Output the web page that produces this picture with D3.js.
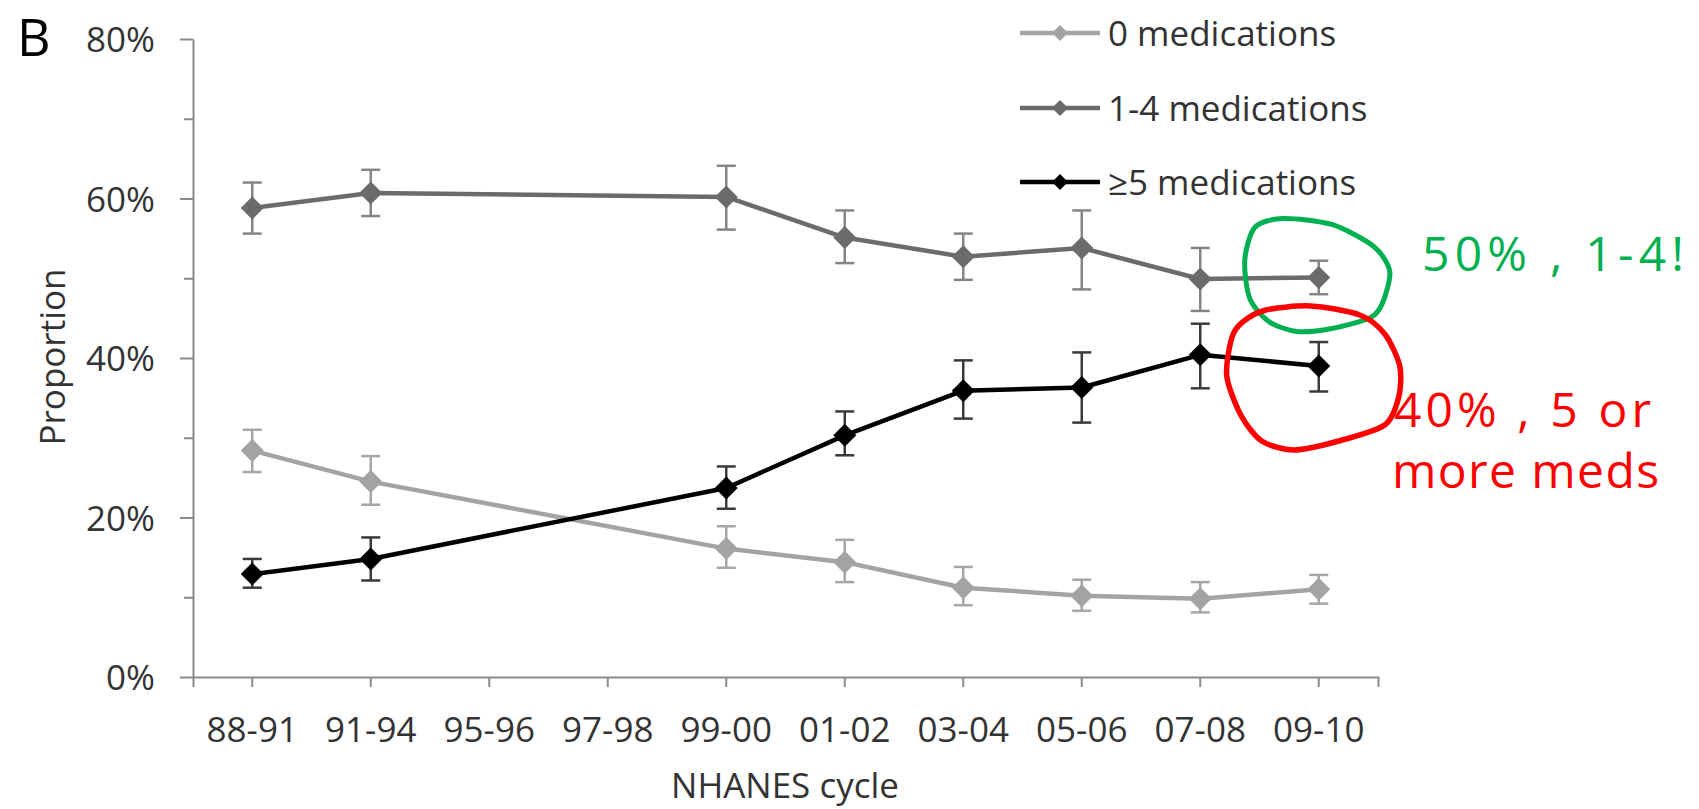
<!DOCTYPE html>
<html>
<head>
<meta charset="utf-8">
<script src="https://cdn.jsdelivr.net/npm/d3@7"></script>
<style>
  html, body { margin: 0; padding: 0; background: #fff; }
  svg { display: block; }
  text { font-family: "Open Sans", "Noto Sans", sans-serif; }
</style>
</head>
<body>
<svg id="chart" width="1699" height="809"></svg>
<script>
// ---------- data ----------
const categories = ["88-91","91-94","95-96","97-98","99-00","01-02","03-04","05-06","07-08","09-10"];

const zeroMeds   = [28.4, 24.5, null, null, 16.1, 14.4, 11.2, 10.2,  9.8, 11.0];
const zeroLo     = [25.7, 21.6, null, null, 13.7, 11.9,  9.0,  8.3,  8.1,  9.2];
const zeroHi     = [31.0, 27.7, null, null, 18.9, 17.2, 13.8, 12.2, 11.9, 12.8];

const oneFour    = [58.8, 60.7, null, null, 60.2, 55.1, 52.7, 53.8, 49.9, 50.1];
const oneFourLo  = [55.6, 57.8, null, null, 56.1, 51.9, 49.8, 48.6, 45.9, 48.0];
const oneFourHi  = [62.0, 63.6, null, null, 64.1, 58.5, 55.6, 58.5, 53.8, 52.2];

const fivePlus   = [12.9, 14.8, null, null, 23.7, 30.3, 35.9, 36.3, 40.4, 39.0];
const fivePlusLo = [11.2, 12.1, null, null, 21.1, 27.8, 32.4, 31.9, 36.2, 35.8];
const fivePlusHi = [14.8, 17.5, null, null, 26.4, 33.3, 39.7, 40.7, 44.3, 42.0];

const seriesNames = ["0 medications", "1-4 medications", "\u22655 medications"];
const yTickValues = [0, 10, 20, 30, 40, 50, 60, 70, 80];
const yMajorTicks = [0, 20, 40, 60, 80];

const panelLabel = "B";
const xTitle = "NHANES cycle";
const yTitle = "Proportion";
const noteGreen = "50% , 1-4!";
const noteRedLines = ["40% , 5 or", "more meds"];

// ---------- layout / style ----------
const svg = d3.select("#chart");
const plot = { left: 193, right: 1378, top: 39, bottom: 677 };
const axisColor = "#8a8a8a";
const textColor = "#333333";
const styles = [
  { line: "#a3a3a3", bar: "#a6a6a6" },
  { line: "#6b6b6b", bar: "#858585" },
  { line: "#000000", bar: "#3a3a3a" }
];

const x = d3.scaleBand().domain(categories).range([plot.left, plot.right]).paddingInner(0).paddingOuter(0);
const xc = c => x(c) + x.bandwidth() / 2;
const y = d3.scaleLinear().domain([0, 80]).range([plot.bottom, plot.top]);

// ---------- axes ----------
const xAxis = d3.axisBottom(x).tickSize(10).tickSizeOuter(10).tickPadding(22);
const gx = svg.append("g").attr("transform", `translate(0,${plot.bottom})`).call(xAxis);
gx.select(".domain").attr("stroke", axisColor).attr("stroke-width", 2);
gx.selectAll(".tick line").attr("stroke", axisColor).attr("stroke-width", 2);
gx.selectAll(".tick text")
  .attr("fill", textColor).attr("font-size", 35)
  .attr("font-family", "'Open Sans', sans-serif")
  .attr("dy", 0).attr("y", 65);

const yAxis = d3.axisLeft(y).tickValues(yTickValues).tickSize(13).tickSizeOuter(0)
  .tickFormat(d => yMajorTicks.includes(d) ? d + "%" : "").tickPadding(25);
const gy = svg.append("g").attr("transform", `translate(${plot.left},0)`).call(yAxis);
gy.select(".domain").attr("stroke", axisColor).attr("stroke-width", 2);
gy.selectAll(".tick line")
  .attr("stroke", axisColor).attr("stroke-width", 2)
  .attr("x2", d => yMajorTicks.includes(d) ? -13 : -9);
gy.selectAll(".tick text")
  .attr("fill", textColor).attr("font-size", 35)
  .attr("font-family", "'Open Sans', sans-serif")
  .attr("x", -38).attr("dy", "0.36em");

// titles
svg.append("text").attr("x", 785).attr("y", 798).attr("text-anchor", "middle")
  .attr("font-size", 35).attr("fill", textColor).text(xTitle);
svg.append("text").attr("transform", "translate(65,357) rotate(-90)").attr("text-anchor", "middle")
  .attr("font-size", 35).attr("fill", textColor).text(yTitle);
svg.append("text").attr("x", 17).attr("y", 56)
  .attr("font-family", "'Liberation Sans', Arial, sans-serif")
  .attr("font-size", 52).attr("fill", "#000").text(panelLabel);

// ---------- series ----------
const series = [
  { name: seriesNames[0], v: zeroMeds, lo: zeroLo, hi: zeroHi, s: styles[0] },
  { name: seriesNames[1], v: oneFour, lo: oneFourLo, hi: oneFourHi, s: styles[1] },
  { name: seriesNames[2], v: fivePlus, lo: fivePlusLo, hi: fivePlusHi, s: styles[2] }
];

const diamond = r => `M0,${-r}L${r},0L0,${r}L${-r},0Z`;
const line = d3.line().x(d => xc(d.c)).y(d => y(d.v));

series.forEach(se => {
  const pts = categories.map((c, i) => ({ c, v: se.v[i], lo: se.lo[i], hi: se.hi[i] }))
    .filter(d => d.v !== null);
  const g = svg.append("g");
  // error bars
  const eb = g.selectAll(".eb").data(pts).enter().append("g");
  eb.append("line").attr("x1", d => xc(d.c)).attr("x2", d => xc(d.c))
    .attr("y1", d => y(d.lo)).attr("y2", d => y(d.hi))
    .attr("stroke", se.s.bar).attr("stroke-width", 2.5);
  [ "lo", "hi" ].forEach(k => {
    eb.append("line").attr("x1", d => xc(d.c) - 9.5).attr("x2", d => xc(d.c) + 9.5)
      .attr("y1", d => y(d[k])).attr("y2", d => y(d[k]))
      .attr("stroke", se.s.bar).attr("stroke-width", 2.5);
  });
  // line
  g.append("path").datum(pts).attr("d", line).attr("fill", "none")
    .attr("stroke", se.s.line).attr("stroke-width", 4.5).attr("stroke-linejoin", "round");
  // markers
  g.selectAll(".mk").data(pts).enter().append("path")
    .attr("d", diamond(11.5))
    .attr("transform", d => `translate(${xc(d.c)},${y(d.v)})`)
    .attr("fill", se.s.line);
});

// ---------- legend ----------
const legend = svg.append("g");
const legendRows = [33, 108, 182];
series.forEach((se, i) => {
  const ly = legendRows[i];
  legend.append("line").attr("x1", 1020).attr("x2", 1100).attr("y1", ly).attr("y2", ly)
    .attr("stroke", se.s.line).attr("stroke-width", 4.5);
  legend.append("path").attr("d", diamond(8)).attr("transform", `translate(1060,${ly})`)
    .attr("fill", se.s.line);
  legend.append("text").attr("x", 1108).attr("y", ly + 13)
    .attr("font-size", 35).attr("fill", textColor).text(se.name);
});

// ---------- hand-drawn annotations ----------
const blob = d3.line().curve(d3.curveCardinalClosed.tension(0.2));
const ax = xc(categories[9]);
const greenAnchor = [ax, y(oneFour[9])];
const redAnchor = [ax, y(fivePlus[9])];
const greenShape = [[-64,-50],[-36,-59],[13,-53],[55,-31],[71,-6],[64,25],[52,40],[13,51],[-22,54],[-50,44],[-69,21],[-74,-17]];
const redShape = [[-76,-44],[-53,-56],[-8,-60],[41,-51],[66,-32],[81,0],[80,31],[66,59],[20,75],[-25,84],[-57,75],[-78,49],[-92,10],[-87,-28]];

svg.append("path")
  .attr("d", blob(greenShape.map(p => [greenAnchor[0] + p[0], greenAnchor[1] + p[1]])))
  .attr("fill", "none").attr("stroke", "#00b050").attr("stroke-width", 5);
svg.append("path")
  .attr("d", blob(redShape.map(p => [redAnchor[0] + p[0], redAnchor[1] + p[1]])))
  .attr("fill", "none").attr("stroke", "#ff0000").attr("stroke-width", 5.5);

const noteFont = "'DejaVu Sans', Verdana, sans-serif";
svg.append("text").attr("x", 1422).attr("y", 271)
  .attr("font-family", noteFont).attr("font-size", 48)
  .attr("textLength", 262).attr("lengthAdjust", "spacing")
  .attr("fill", "#00b050").text(noteGreen);
const redX = [1394, 1392], redLen = [257, 267], redY = [427, 488];
noteRedLines.forEach((t, i) => {
  svg.append("text").attr("x", redX[i]).attr("y", redY[i])
    .attr("font-family", noteFont).attr("font-size", 48)
    .attr("textLength", redLen[i]).attr("lengthAdjust", "spacing")
    .attr("fill", "#ff0000").text(t);
});
</script>
</body>
</html>
